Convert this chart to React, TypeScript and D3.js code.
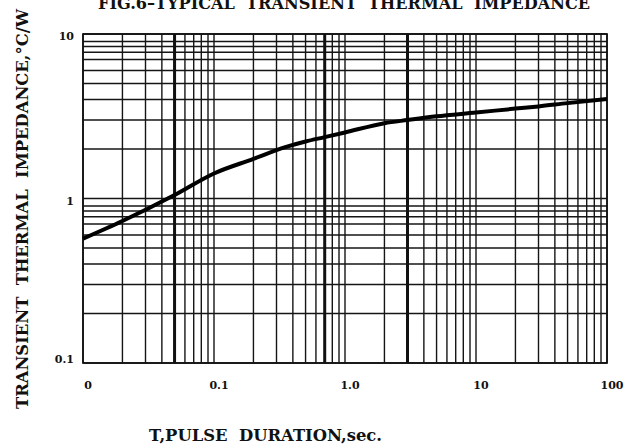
import React from "react";
import * as d3 from "d3";

// ---- data ----
const pulseDuration = [0.01, 0.02, 0.05, 0.1, 0.2, 0.35, 0.5, 0.7, 1, 2, 3, 5, 10, 20, 30, 50, 100];
const thermalImpedance = [0.57, 0.73, 1.05, 1.42, 1.74, 2.05, 2.22, 2.36, 2.52, 2.87, 3.0, 3.16, 3.33, 3.52, 3.63, 3.8, 4.02];

const xTickValues = [0.01, 0.1, 1, 10, 100];
const xTickLabels = ["0", "0.1", "1.0", "10", "100"];
const yTickValues = [10, 1, 0.1];
const yTickLabels = ["10", "1", "0.1"];

const xDecades = [0.01, 0.1, 1, 10];
const xMultipliers = [1, 2, 3, 4, 5, 6, 7, 8, 9];
const xHeavyLines = [0.05, 0.7, 3];
const yDecades = [0.1, 1];
const yMultipliers = [1, 2, 3, 4, 5, 6, 7, 7.75, 8.4, 9];

const title = "FIG.6\u2013TYPICAL  TRANSIENT  THERMAL  IMPEDANCE";
const xTitle = "T,PULSE  DURATION,sec.";
const yTitle = "TRANSIENT  THERMAL  IMPEDANCE,\u00B0C/W";

const W = 634;
const H = 444;
const FONT = "'DejaVu Serif', serif";

export default function App() {
  const x = d3.scaleLog().domain([0.01, 100]).range([83, 607]);
  const y = d3.scaleLog().domain([0.1, 10]).range([363, 34]);

  const vLines: number[] = [];
  xDecades.forEach((d) => xMultipliers.forEach((m) => vLines.push(d * m)));
  vLines.push(100);
  const hLines: number[] = [];
  yDecades.forEach((d) => yMultipliers.forEach((m) => hLines.push(d * m)));
  hLines.push(10);

  const pts: [number, number][] = pulseDuration.map((t, i) => [t, thermalImpedance[i]]);
  const line = d3
    .line<[number, number]>()
    .x((d) => x(d[0]))
    .y((d) => y(d[1]))
    .curve(d3.curveMonotoneX);

  const [x0, x1] = x.range();
  const [y0, y1] = y.range();

  return (
    <svg
      width={W}
      height={H}
      style={{ position: "absolute", left: 0, top: 0, background: "#fff" }}
      fontFamily={FONT}
    >
      <rect x={0} y={0} width={W} height={H} fill="#fff" />
      <text
        x={98}
        y={8.5}
        fontSize={16}
        fontWeight="bold"
        textLength={492}
        lengthAdjust="spacingAndGlyphs"
        style={{ whiteSpace: "pre" }}
        fill="#111"
      >
        {title}
      </text>

      {/* grid */}
      <g stroke="#151515" strokeWidth={1.4}>
        {vLines.map((v, i) => (
          <line key={"v" + i} x1={x(v)} x2={x(v)} y1={y1} y2={y0} />
        ))}
        {hLines.map((v, i) => (
          <line key={"h" + i} x1={x0} x2={x1} y1={y(v)} y2={y(v)} />
        ))}
      </g>
      <g stroke="#111" strokeWidth={3}>
        {xHeavyLines.map((v, i) => (
          <line key={"hv" + i} x1={x(v)} x2={x(v)} y1={y1} y2={y0} />
        ))}
      </g>
      <rect x={x0} y={y1} width={x1 - x0} height={y0 - y1} fill="none" stroke="#111" strokeWidth={1.7} />

      {/* curve */}
      <path d={line(pts) || ""} fill="none" stroke="#000" strokeWidth={4} strokeLinejoin="round" />

      {/* x tick labels */}
      <g fontSize={11} fontWeight="bold" fill="#111" textAnchor="middle">
        {xTickValues.map((v, i) => (
          <text key={"xt" + i} x={x(v) + 5} y={389}>
            {xTickLabels[i]}
          </text>
        ))}
      </g>
      {/* y tick labels */}
      <g fontSize={11} fontWeight="bold" fill="#111" textAnchor="end">
        {yTickValues.map((v, i) => (
          <text key={"yt" + i} x={74} y={y(v) + (i === yTickValues.length - 1 ? 0 : 6)}>
            {yTickLabels[i]}
          </text>
        ))}
      </g>

      <text
        x={149}
        y={441}
        fontSize={17}
        fontWeight="bold"
        textLength={233}
        lengthAdjust="spacingAndGlyphs"
        style={{ whiteSpace: "pre" }}
        fill="#111"
      >
        {xTitle}
      </text>
      <text
        transform="translate(28,209) rotate(-90)"
        textAnchor="middle"
        fontSize={17}
        fontWeight="bold"
        textLength={400}
        lengthAdjust="spacingAndGlyphs"
        style={{ whiteSpace: "pre" }}
        fill="#111"
      >
        {yTitle}
      </text>
    </svg>
  );
}
